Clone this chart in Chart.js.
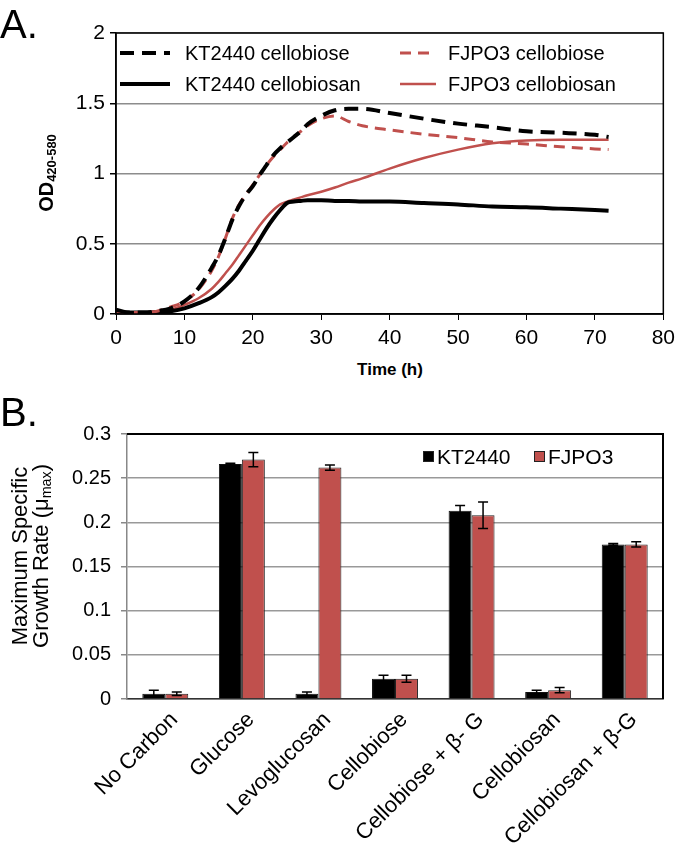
<!DOCTYPE html>
<html>
<head>
<meta charset="utf-8">
<script src="https://cdn.jsdelivr.net/npm/chart.js@4.4.0/dist/chart.umd.min.js"></script>
<style>
body { margin: 0; background: #fff; width: 681px; height: 845px; position: relative; overflow: hidden;
       font-family: "Liberation Sans", Arial, sans-serif; color: #000; }
canvas { position: absolute; left: 0; }
#growthChart { top: 0; }
#rateChart { top: 400px; }
.lbl { position: absolute; white-space: nowrap; line-height: 1; }
.rot { transform: translate(-50%, -50%) rotate(-90deg); text-align: center; }
sub { font-size: 0.65em; vertical-align: -0.25em; }
</style>
</head>
<body>
<canvas id="growthChart" width="681" height="360"></canvas>
<canvas id="rateChart" width="681" height="445"></canvas>

<div class="lbl" style="left:0;top:4px;font-size:40px;">A.</div>
<div class="lbl" style="left:0;top:392px;font-size:40px;">B.</div>
<div class="lbl rot" style="left:47px;top:173px;font-size:20px;font-weight:bold;">OD<sub>420-580</sub></div>
<div class="lbl" style="left:390px;top:361px;font-size:17px;font-weight:bold;transform:translateX(-50%);">Time (h)</div>
<div class="lbl rot" style="left:33px;top:556px;font-size:22px;line-height:21px;">Maximum Specific<br>Growth Rate (μ<sub>max</sub>)</div>

<script>
// growth curves (panel A)
const timeH = [0, 2, 4, 6, 8, 10, 12, 14, 15, 16, 17, 18, 19, 20, 21, 22, 23, 24, 25, 26, 27, 28, 30, 32, 34, 36, 40, 45, 50, 55, 60, 65, 70, 72];
const ktCellobiose = [0.03, 0.01, 0.01, 0.02, 0.04, 0.09, 0.18, 0.33, 0.42, 0.54, 0.67, 0.77, 0.85, 0.91, 0.99, 1.06, 1.13, 1.18, 1.22, 1.26, 1.30, 1.35, 1.41, 1.45, 1.46, 1.46, 1.43, 1.39, 1.355, 1.33, 1.30, 1.29, 1.275, 1.26];
const fjCellobiose = [0.02, 0.01, 0.01, 0.02, 0.05, 0.09, 0.17, 0.31, 0.41, 0.54, 0.68, 0.78, 0.85, 0.92, 0.99, 1.06, 1.12, 1.17, 1.22, 1.26, 1.30, 1.34, 1.39, 1.41, 1.37, 1.34, 1.31, 1.28, 1.255, 1.225, 1.21, 1.19, 1.175, 1.17];
const ktCellobiosan = [0.01, 0.01, 0.01, 0.01, 0.02, 0.04, 0.075, 0.12, 0.155, 0.2, 0.25, 0.31, 0.38, 0.45, 0.53, 0.61, 0.68, 0.74, 0.79, 0.80, 0.805, 0.81, 0.81, 0.805, 0.805, 0.80, 0.80, 0.79, 0.78, 0.765, 0.76, 0.75, 0.74, 0.735];
const fjCellobiosan = [0.01, 0.01, 0.01, 0.02, 0.03, 0.065, 0.11, 0.18, 0.23, 0.29, 0.35, 0.42, 0.49, 0.56, 0.63, 0.69, 0.74, 0.78, 0.80, 0.815, 0.83, 0.845, 0.87, 0.90, 0.935, 0.965, 1.035, 1.11, 1.17, 1.215, 1.235, 1.24, 1.24, 1.24];

// growth rates (panel B)
const carbonSources = ['No Carbon', 'Glucose', 'Levoglucosan', 'Cellobiose', 'Cellobiose + β- G', 'Cellobiosan', 'Cellobiosan + β-G'];
const ktRate = [0.006, 0.266, 0.006, 0.023, 0.213, 0.008, 0.175];
const ktRateErr = [0.004, 0.001, 0.002, 0.004, 0.006, 0.002, 0.001];
const fjRate = [0.006, 0.271, 0.262, 0.023, 0.208, 0.010, 0.175];
const fjRateErr = [0.002, 0.008, 0.003, 0.004, 0.015, 0.003, 0.003];

const RED = '#C0504D';
const FONT = '"Liberation Sans", Arial, sans-serif';
const plain = v => String(+Number(v).toFixed(3));

function toPoints(ys) {
    return timeH.map((t, i) => ({ x: t, y: ys[i] }));
}

// frame round the plot area
const frame = {
    id: 'frame',
    afterDraw(chart, args, opts) {
        const { ctx, chartArea: a } = chart;
        ctx.save();
        ctx.lineWidth = opts.width || 1.5;
        ctx.strokeStyle = opts.color || '#000';
        ctx.strokeRect(a.left, a.top, a.right - a.left, a.bottom - a.top);
        ctx.restore();
    }
};

// legend for panel A, drawn inside the plot
const lineLegend = {
    id: 'lineLegend',
    afterDraw(chart) {
        const ctx = chart.ctx;
        const spots = [[120, 170, 185, 53], [400, 436, 448, 53], [120, 170, 185, 84], [400, 436, 448, 84]];
        ctx.save();
        ctx.font = '20px ' + FONT;
        ctx.textBaseline = 'middle';
        chart.data.datasets.forEach((ds, i) => {
            const [x1, x2, tx, y] = spots[i];
            ctx.strokeStyle = ds.borderColor;
            ctx.lineWidth = ds.borderWidth;
            ctx.setLineDash(ds.borderDash || []);
            ctx.beginPath();
            ctx.moveTo(x1, y);
            ctx.lineTo(x2, y);
            ctx.stroke();
            ctx.setLineDash([]);
            ctx.fillStyle = '#000';
            ctx.fillText(ds.label, tx, y + 1);
        });
        ctx.restore();
    }
};

new Chart(document.getElementById('growthChart'), {
    type: 'line',
    data: {
        datasets: [
            { label: 'KT2440 cellobiose', data: toPoints(ktCellobiose), borderColor: '#000', borderWidth: 4, borderDash: [14, 8] },
            { label: 'FJPO3 cellobiose', data: toPoints(fjCellobiose), borderColor: RED, borderWidth: 3, borderDash: [11, 7] },
            { label: 'KT2440 cellobiosan', data: toPoints(ktCellobiosan), borderColor: '#000', borderWidth: 4 },
            { label: 'FJPO3 cellobiosan', data: toPoints(fjCellobiosan), borderColor: RED, borderWidth: 2.5 }
        ]
    },
    options: {
        responsive: false,
        animation: false,
        elements: { point: { radius: 0 }, line: { cubicInterpolationMode: 'monotone' } },
        layout: { padding: { left: 0, top: 33, right: 17, bottom: 0 } },
        plugins: { legend: { display: false }, tooltip: { enabled: false }, frame: { width: 1.5, color: '#000' } },
        scales: {
            x: {
                type: 'linear', min: 0, max: 80,
                ticks: { stepSize: 10, color: '#000', font: { family: FONT, size: 21 }, padding: 6, callback: plain },
                grid: { drawOnChartArea: false, tickLength: 6, tickColor: '#000' },
                border: { color: '#000', width: 1.5 },
                afterFit: s => { s.height = 46; }
            },
            y: {
                min: 0, max: 2,
                ticks: { stepSize: 0.5, color: '#000', font: { family: FONT, size: 21 }, padding: 5, callback: plain },
                grid: { color: '#8c8c8c', lineWidth: 1.5, tickLength: 6, tickColor: '#000' },
                border: { color: '#000', width: 1.5 },
                afterFit: s => { s.width = 116; }
            }
        }
    },
    plugins: [frame, lineLegend]
});

// error bars for panel B
const errorBars = {
    id: 'errorBars',
    afterDatasetsDraw(chart) {
        const { ctx, scales: { y } } = chart;
        ctx.save();
        ctx.strokeStyle = '#000';
        ctx.lineWidth = 1.5;
        chart.data.datasets.forEach((ds, i) => {
            chart.getDatasetMeta(i).data.forEach((bar, j) => {
                const v = ds.data[j], e = ds.errors[j];
                const yt = y.getPixelForValue(v + e), yb = y.getPixelForValue(v - e);
                ctx.beginPath();
                ctx.moveTo(bar.x, yt); ctx.lineTo(bar.x, yb);
                ctx.moveTo(bar.x - 5, yt); ctx.lineTo(bar.x + 5, yt);
                ctx.moveTo(bar.x - 5, yb); ctx.lineTo(bar.x + 5, yb);
                ctx.stroke();
            });
        });
        ctx.restore();
    }
};

const barFrame = {
    id: 'barFrame',
    afterDraw(chart) {
        const { ctx, chartArea: a } = chart;
        ctx.save();
        ctx.lineWidth = 2;
        ctx.strokeStyle = '#000';
        ctx.beginPath();
        ctx.moveTo(a.left, a.top); ctx.lineTo(a.right, a.top); ctx.lineTo(a.right, a.bottom);
        ctx.stroke();
        // legend
        ctx.font = '21px ' + FONT;
        ctx.textBaseline = 'middle';
        const items = [[423, 437], [534, 548]];
        chart.data.datasets.forEach((ds, i) => {
            const [bx, tx] = items[i];
            ctx.fillStyle = ds.backgroundColor;
            ctx.fillRect(bx, 51, 11, 11);
            ctx.lineWidth = 1;
            ctx.strokeStyle = '#222';
            ctx.strokeRect(bx + 0.5, 51.5, 10, 10);
            ctx.fillStyle = '#000';
            ctx.fillText(ds.label, tx, 58);
        });
        ctx.restore();
    }
};

new Chart(document.getElementById('rateChart'), {
    type: 'bar',
    data: {
        labels: carbonSources,
        datasets: [
            { label: 'KT2440', data: ktRate, errors: ktRateErr, backgroundColor: '#000', borderColor: '#111', borderWidth: 1 },
            { label: 'FJPO3', data: fjRate, errors: fjRateErr, backgroundColor: RED, borderColor: '#222', borderWidth: 1 }
        ]
    },
    options: {
        responsive: false,
        animation: false,
        barPercentage: 1,
        categoryPercentage: 0.6,
        layout: { padding: { left: 0, top: 34, right: 18, bottom: 0 } },
        plugins: { legend: { display: false }, tooltip: { enabled: false } },
        scales: {
            x: {
                ticks: { color: '#000', font: { family: FONT, size: 22 }, minRotation: 45, maxRotation: 45, autoSkip: false, padding: 0, labelOffset: 9 },
                grid: { display: false },
                border: { color: '#333', width: 1.5 },
                afterFit: s => { s.height = 146; }
            },
            y: {
                min: 0, max: 0.3,
                ticks: { stepSize: 0.05, color: '#000', font: { family: FONT, size: 20 }, padding: 10, callback: plain },
                grid: { color: '#999', lineWidth: 1.5, tickLength: 6, tickColor: '#888' },
                border: { color: '#888', width: 1.5 },
                afterFit: s => { s.width = 127; }
            }
        }
    },
    plugins: [errorBars, barFrame]
});
</script>
</body>
</html>
